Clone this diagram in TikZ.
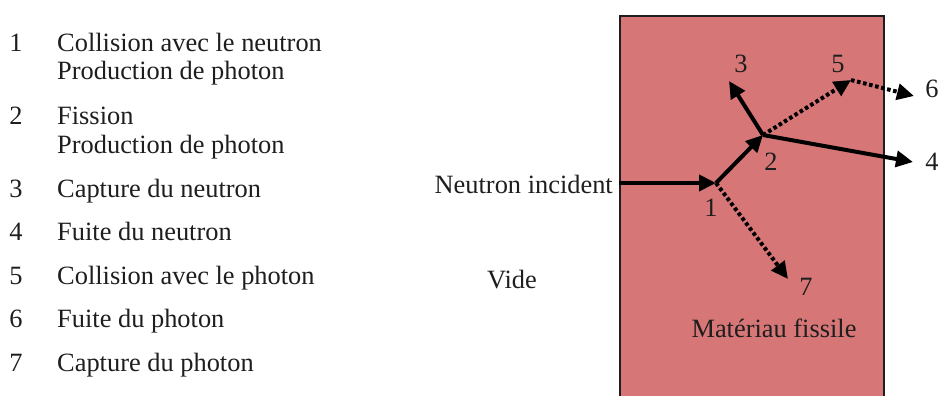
\documentclass[tikz,border=0pt]{standalone}
\usepackage{fontspec}
\setmainfont{Liberation Serif}
\usetikzlibrary{arrows.meta}
\definecolor{fissile}{RGB}{215,118,118}
\definecolor{ink}{RGB}{30,30,30}
\begin{document}
\begin{tikzpicture}[x=1pt,y=-1pt,
  txt/.style={inner sep=0pt, text=ink, font=\fontsize{26.4}{30}\selectfont},
  ray/.style={line width=4pt, -{Triangle[length=17pt,width=16pt]}},
  photon/.style={ray, dash pattern=on 3.6pt off 2.6pt}]
\useasboundingbox (0,0) rectangle (940,396);
\clip (0,0) rectangle (940,396);
% material block
\node[draw=ink, line width=1.8pt, fill=fissile, minimum width=264pt,
      minimum height=420pt, anchor=north west, inner sep=0pt] (mat) at (619,15) {};
% list
\node[txt, anchor=base] (n1) at (16,52) {1};
\node[txt, anchor=base west] (l1a) at (57,52) {Collision avec le neutron};
\node[txt, anchor=base west] (l1b) at (57,80) {Production de photon};
\node[txt, anchor=base] (n2) at (16,124) {2};
\node[txt, anchor=base west] (l2a) at (57,124) {Fission};
\node[txt, anchor=base west] (l2b) at (57,153) {Production de photon};
\node[txt, anchor=base] (n3) at (16,197) {3};
\node[txt, anchor=base west] (l3) at (57,197) {Capture du neutron};
\node[txt, anchor=base] (n4) at (16,240) {4};
\node[txt, anchor=base west] (l4) at (57,240) {Fuite du neutron};
\node[txt, anchor=base] (n5) at (16,284) {5};
\node[txt, anchor=base west] (l5) at (57,284) {Collision avec le photon};
\node[txt, anchor=base] (n6) at (16,327) {6};
\node[txt, anchor=base west] (l6) at (57,327) {Fuite du photon};
\node[txt, anchor=base] (n7) at (16,371) {7};
\node[txt, anchor=base west] (l7) at (57,371) {Capture du photon};
% labels
\node[txt, anchor=base east] (inc) at (613,193) {Neutron incident};
\node[txt, anchor=base] (vide) at (512,288) {Vide};
\node[txt, anchor=base] (matl) at (774,337) {Matériau fissile};
\node[txt, anchor=base] (e1) at (711,216) {1};
\node[txt, anchor=base] (e2) at (771,170) {2};
\node[txt, anchor=base] (e3) at (741,73) {3};
\node[txt, anchor=base] (e4) at (932,170) {4};
\node[txt, anchor=base] (e5) at (838,73) {5};
\node[txt, anchor=base] (e6) at (932,98) {6};
\node[txt, anchor=base] (e7) at (806,295) {7};
% points
\coordinate (in) at (619,183);
\coordinate (c1) at (716,183);
\coordinate (c2) at (763,135);
\coordinate (t3) at (729,81);
\coordinate (c5) at (851,80);
\coordinate (t6) at (914,96);
\coordinate (t4) at (913,162);
\coordinate (t7) at (788,279);
% rays
\draw[ray] (in) -- (c1);
\draw[ray] (c1) -- (c2);
\draw[ray] (c2) -- (t3);
\draw[ray] (c2) -- (t4);
\draw[photon] (c2) -- (c5);
\draw[photon] (c5) -- (t6);
\draw[photon] (c1) -- (t7);
\end{tikzpicture}
\end{document}
